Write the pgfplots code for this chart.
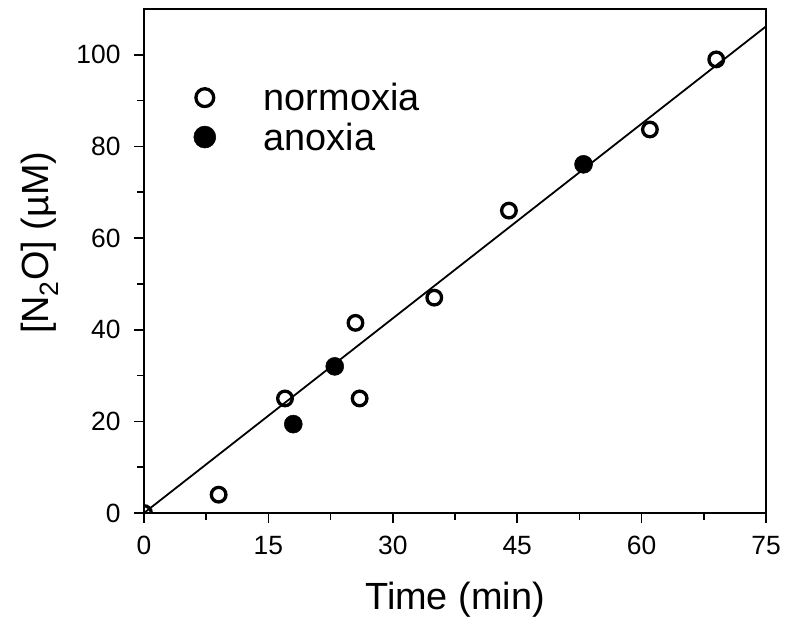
\documentclass[border=0pt]{standalone}
\usepackage{fontspec}
\setmainfont{Liberation Sans}
\usepackage{pgfplots}
\pgfplotsset{compat=1.18}

% N2O accumulation over time
\pgfplotstableread{
t    n2o
0    0
9    4
17   25
25.5 41.5
26   25
35   47
44   66
61   83.7
69   99
}\normoxia
\pgfplotstableread{
t    n2o
18   19.4
23   32
53   76.1
}\anoxia

\begin{document}
\begin{tikzpicture}
\begin{axis}[
  name=ax,
  scale only axis, width=622bp, height=504bp,
  xmin=0, xmax=75, ymin=0, ymax=110,
  xtick={0,15,...,75}, ytick={0,20,...,100},
  minor x tick num=1, minor y tick num=1,
  tick pos=left, tick align=outside,
  major tick length=10bp, minor tick length=7bp,
  every tick/.style={black, line width=1.6bp},
  axis line style={line width=1.8bp},
  clip marker paths=true,
  tick label style={font=\fontsize{26.5}{30}\selectfont},
  /pgf/number format/assume math mode=true,
  xticklabel style={yshift=-10bp},
  yticklabel style={xshift=-10bp},
  xlabel={Time (min)},
  ylabel={[N\textsubscript{2}O] (µM)},
  label style={font=\fontsize{38}{42}\selectfont},
  xlabel style={at={(axis description cs:0.5,-0.173)}, anchor=center},
  ylabel style={at={(axis description cs:-0.167,0.536)}, anchor=center},
  legend cell align=left,
  legend style={draw=none, fill=none, at={(rel axis cs:0.075,0.785)}, anchor=west,
    font=\fontsize{38}{42}\selectfont, row sep=6.5bp,
    /tikz/every odd column/.append style={column sep=46bp}},
  % legend symbols are drawn a little larger than the data marks
  legend image code/.code={\draw[#1, every mark/.append style={scale=1.22}] plot coordinates {(0bp,0bp)};},
]
\addplot[no marks, line width=1.8bp, forget plot] coordinates {(0,0) (75,106.2)};
\addplot[only marks, mark=o, mark size=7.3bp, line width=3.3bp, black] table[x=t, y=n2o] {\normoxia};
\addlegendentry{normoxia}
\addplot[only marks, mark=*, mark size=9bp, line width=0.5bp, black] table[x=t, y=n2o] {\anoxia};
\addlegendentry{anoxia}
\end{axis}
\pgfresetboundingbox
\path ([shift={(-144bp,-112bp)}]ax.south west) rectangle ([shift={(22bp,9bp)}]ax.north east);
\end{tikzpicture}
\end{document}
